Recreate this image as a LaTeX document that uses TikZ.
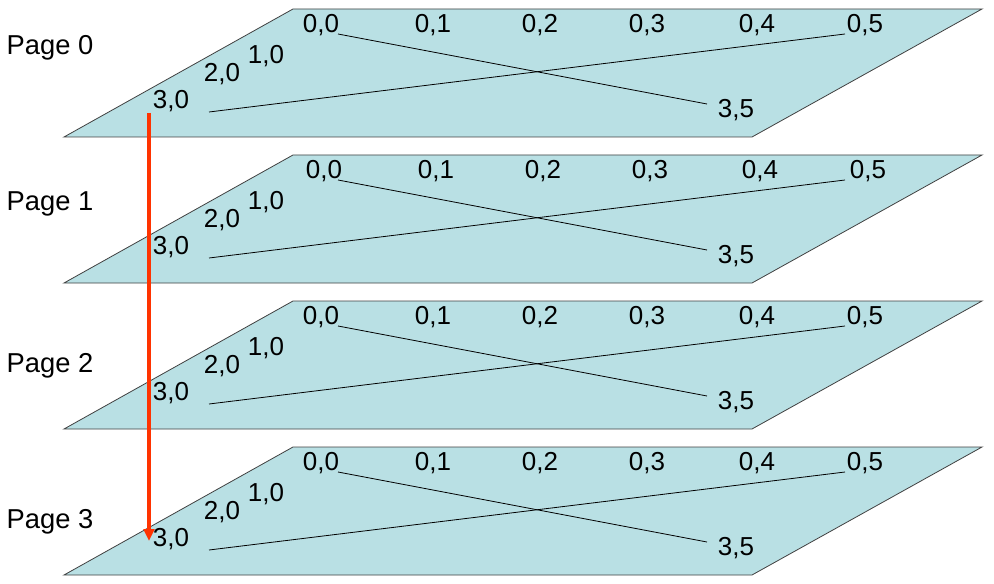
\documentclass[tikz,border=0pt]{standalone}
\usepackage{fontspec}
\setmainfont{Liberation Sans}
\usetikzlibrary{arrows.meta}
\definecolor{planefill}{RGB}{185,224,228}
\definecolor{arrowred}{RGB}{255,51,0}
\tikzset{
  plane/.style={fill=planefill,draw=black!75,line width=0.6pt},
  cell/.style={inner sep=0pt,font=\fontsize{19.5}{22}\selectfont},
  pagelabel/.style={inner sep=0pt,font=\fontsize{20.5}{24}\selectfont},
  diag/.style={draw=black,line width=0.6pt}
}
\begin{document}
\begin{tikzpicture}[x=0.75pt,y=-0.75pt]
\useasboundingbox (0,0) rectangle (994,584);
% one plane per page
\foreach \p/\dy/\ly/\sx in {0/0/48/0,1/146/204/3,2/292/366/0,3/438/522/0}{
  \draw[plane] (293,9+\dy) -- (982,9+\dy) -- (752,137+\dy) -- (64,137+\dy) -- cycle;
  \node[pagelabel] (page\p) at (50,\ly) {Page \p};
  \node[cell] (c00-\p) at (321+\sx,25+\dy) {0,0};
  \node[cell] (c01-\p) at (433+\sx,25+\dy) {0,1};
  \node[cell] (c02-\p) at (540+\sx,25+\dy) {0,2};
  \node[cell] (c03-\p) at (647+\sx,25+\dy) {0,3};
  \node[cell] (c04-\p) at (757+\sx,25+\dy) {0,4};
  \node[cell] (c05-\p) at (865+\sx,25+\dy) {0,5};
  \node[cell] (c10-\p) at (266,56+\dy) {1,0};
  \node[cell] (c20-\p) at (222,74+\dy) {2,0};
  \node[cell] (c30-\p) at (171,101+\dy) {3,0};
  \node[cell] (c35-\p) at (736,110+\dy) {3,5};
  \coordinate (from00-\p) at (338,34+\dy);
  \coordinate (to35-\p) at (707,104+\dy);
  \coordinate (from30-\p) at (209,112+\dy);
  \coordinate (to05-\p) at (845,34+\dy);
  \draw[diag] (from00-\p) -- (to35-\p);
  \draw[diag] (from30-\p) -- (to05-\p);
}
% walk down through the pages
\coordinate (walktop) at (149,113);
\coordinate (walkend) at (149,541);
\draw[arrowred,line width=2.4pt,-{Triangle[width=8pt,length=9pt]}] (walktop) -- (walkend);
\end{tikzpicture}
\end{document}
